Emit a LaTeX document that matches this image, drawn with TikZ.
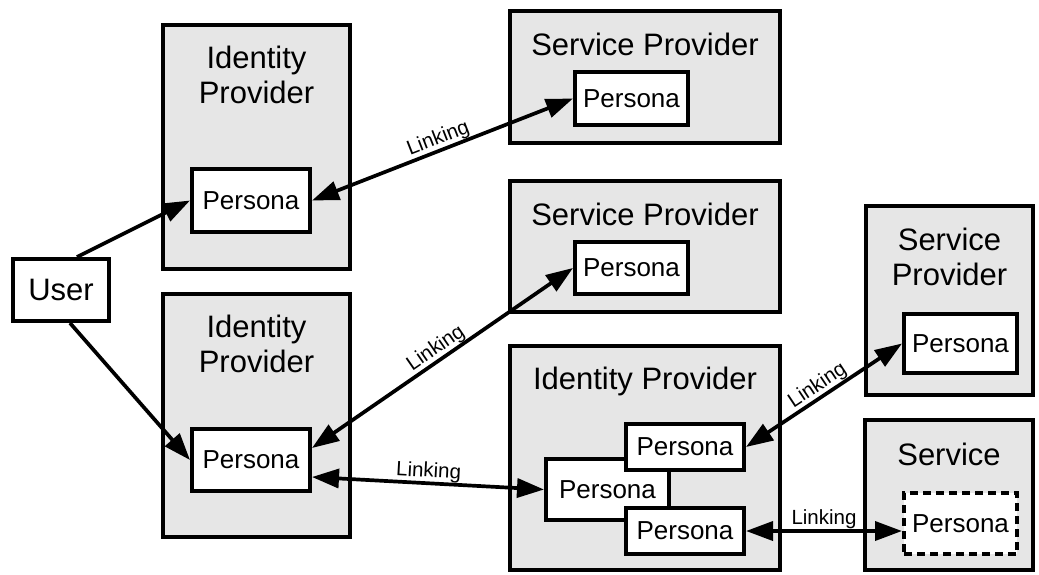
\documentclass[tikz,border=0pt]{standalone}
\usepackage{fontspec}
\setmainfont{Liberation Sans}
\usetikzlibrary{arrows.meta}
\definecolor{panelgray}{RGB}{230,230,230}
\begin{document}
\begin{tikzpicture}[x=1pt,y=-1pt,
  panel/.style={draw, line width=4pt, fill=panelgray, rectangle, inner sep=0pt},
  persona/.style={draw, line width=4pt, fill=white, rectangle, inner sep=0pt,
    font=\fontsize{26}{30}\selectfont},
  ghost/.style={persona, dash pattern=on 8pt off 5pt},
  title/.style={anchor=north, inner sep=0pt, align=center,
    font=\fontsize{31}{35}\selectfont},
  link/.style={line width=3.7pt,
    {Triangle[length=27pt,width=19pt]}-{Triangle[length=27pt,width=19pt]}},
  uarrow/.style={line width=3.7pt, -{Triangle[length=27pt,width=19pt]}},
  lbl/.style={sloped, midway, above=0pt, inner sep=0pt,
    font=\fontsize{20.5}{24}\selectfont}]

\useasboundingbox (0,0) rectangle (1039,574);

% user
\node[persona, font=\fontsize{31}{35}\selectfont, minimum width=96pt, minimum height=62pt]
  (user) at (61,290) {User};

% left identity providers
\node[panel, minimum width=187pt, minimum height=244pt] (idp1) at (256.5,147) {};
\node[title] (idp1t) at (256.5,46) {Identity\\Provider};
\node[persona, minimum width=118pt, minimum height=63pt] (p1) at (251,200.5) {Persona};

\node[panel, minimum width=187pt, minimum height=243pt] (idp2) at (256.5,415.5) {};
\node[title] (idp2t) at (256.5,315) {Identity\\Provider};
\node[persona, minimum width=118pt, minimum height=62pt] (p2) at (251,460) {Persona};

% service providers
\node[panel, minimum width=270pt, minimum height=132pt] (sp1) at (645,77) {};
\node[title] (sp1t) at (645,33) {Service Provider};
\node[persona, minimum width=113pt, minimum height=53pt] (sp1p) at (631.5,98.5) {Persona};

\node[panel, minimum width=270pt, minimum height=131pt] (sp2) at (645,246.5) {};
\node[title] (sp2t) at (645,203) {Service Provider};
\node[persona, minimum width=113pt, minimum height=52pt] (sp2p) at (631.5,268) {Persona};

\node[panel, minimum width=167pt, minimum height=189pt] (sp3) at (949.5,300.5) {};
\node[title] (sp3t) at (949.5,228) {Service\\Provider};
\node[persona, minimum width=113pt, minimum height=59pt] (sp3p) at (960.5,343.5) {Persona};

% identity provider with three personas
\node[panel, minimum width=270pt, minimum height=224pt] (idp3) at (645,458) {};
\node[title] (idp3t) at (645,367) {Identity Provider};
\node[persona, minimum width=123pt, minimum height=61pt] (pb) at (607.5,489.5) {Persona};
\node[persona, minimum width=118pt, minimum height=46pt] (pa) at (685,447) {Persona};
\node[persona, minimum width=118pt, minimum height=46pt] (pc) at (685,531) {Persona};

% service
\node[panel, minimum width=168pt, minimum height=150pt] (svc) at (949,495) {};
\node[title] (svct) at (949,443) {Service};
\node[ghost, minimum width=113pt, minimum height=61pt] (svcp) at (960.5,523.5) {Persona};

% connectors
\draw[uarrow] ([xshift=16pt]user.north) -- (p1.west);
\draw[uarrow] ([xshift=9pt]user.south) -- (p2.west);

\draw[link] (p1.east) -- node[lbl] {Linking} (sp1p.west);
\draw[link] ([yshift=12pt]p2.east) -- node[lbl] {Linking} (sp2p.west);
\draw[link] ([yshift=-17pt]p2.east) -- node[lbl] {Linking} (pb.west);
\draw[link] (pa.east) -- node[lbl] {Linking} (sp3p.west);
\draw[link] (pc.east) -- node[lbl] {Linking} (pc.east -| svcp.west);
\end{tikzpicture}
\end{document}
